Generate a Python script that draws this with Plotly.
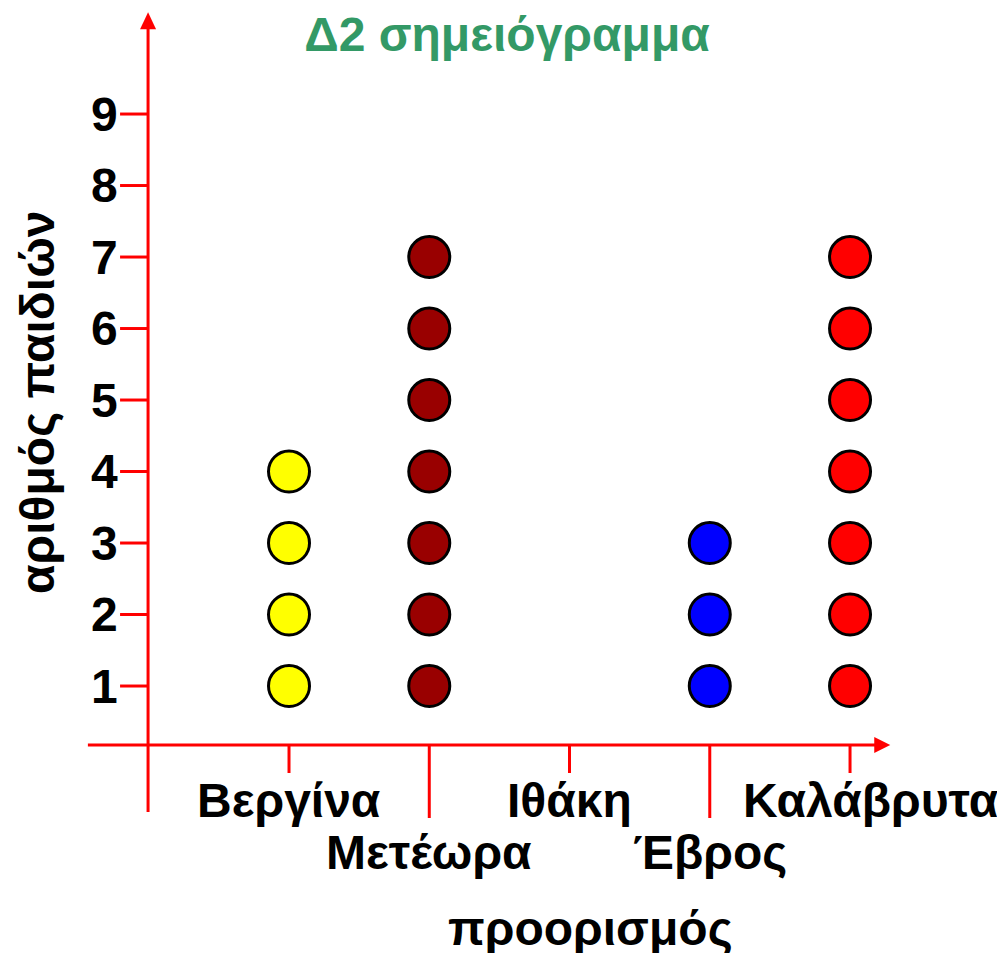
import plotly.graph_objects as go

# ---- data ----
categories = ["Βεργίνα", "Μετέωρα", "Ιθάκη", "Έβρος", "Καλάβρυτα"]
counts = [4, 7, 0, 3, 7]
colors = ["#FFFF00", "#990000", "#00B050", "#0000FF", "#FF0000"]
y_ticks = [1, 2, 3, 4, 5, 6, 7, 8, 9]
title_text = "Δ2 σημειόγραμμα"
x_title = "προορισμός"
y_title = "αριθμός παιδιών"

FONT = "Liberation Sans, Arial, sans-serif"
W, H = 1005, 953
OFF = 8  # page body margin
RED = "#FF0000"
FS = 48

# axis ranges (index of category on x, count on y)
x_range = [-2.0036, 5.162]
y_range = [-2.846, 10.483]
y_axis_x = -1.005      # where the vertical axis stands (in category-index units)
x_axis_y = 0.175       # where the horizontal axis stands (in count units)

fig = go.Figure()

for i, (cat, n, col) in enumerate(zip(categories, counts, colors)):
    if n == 0:
        continue
    fig.add_trace(go.Scatter(
        x=[i] * n, y=list(range(1, n + 1)), mode="markers",
        marker=dict(size=41, color=col, line=dict(color="black", width=3)),
        showlegend=False, hoverinfo="skip", cliponaxis=False,
    ))

shapes = []
# vertical axis line
shapes.append(dict(type="line", xref="x", yref="y", x0=y_axis_x, x1=y_axis_x,
                   y0=-0.763, y1=10.2, line=dict(color=RED, width=3), layer="below"))
# arrow head up
shapes.append(dict(type="path", xref="x", yref="y", xsizemode="pixel", ysizemode="pixel",
                   xanchor=y_axis_x, yanchor=10.2, path="M -8 -1 L 8 -1 L 0 16 Z",
                   fillcolor=RED, line=dict(color=RED, width=0)))
# horizontal axis line
shapes.append(dict(type="line", xref="x", yref="y", x0=-1.434, x1=4.18,
                   y0=x_axis_y, y1=x_axis_y, line=dict(color=RED, width=3), layer="below"))
shapes.append(dict(type="path", xref="x", yref="y", xsizemode="pixel", ysizemode="pixel",
                   xanchor=4.18, yanchor=x_axis_y, path="M -1 -8 L -1 8 L 15 0 Z",
                   fillcolor=RED, line=dict(color=RED, width=0)))
# y ticks
for v in y_ticks:
    shapes.append(dict(type="line", xref="x", yref="y", xsizemode="pixel",
                       xanchor=y_axis_x, x0=-28, x1=0, y0=v, y1=v,
                       line=dict(color=RED, width=3)))
# x ticks (alternating length)
for i, cat in enumerate(categories):
    ln = 28 if i % 2 == 0 else 73
    shapes.append(dict(type="line", xref="x", yref="y", ysizemode="pixel",
                       yanchor=x_axis_y, y0=0, y1=-ln, x0=i, x1=i,
                       line=dict(color=RED, width=3)))

annotations = []
for i, cat in enumerate(categories):
    off = 55 if i % 2 == 0 else 107
    xs = 21 if i == len(categories) - 1 else 0
    annotations.append(dict(x=i, y=x_axis_y, xref="x", yref="y", text=cat,
                            showarrow=False, yshift=-off, xshift=xs,
                            font=dict(family=FONT, size=FS, color="black", weight="bold")))
for v in y_ticks:
    annotations.append(dict(x=y_axis_x, y=v, xref="x", yref="y", text=str(v),
                            showarrow=False, xanchor="right", xshift=-28,
                            font=dict(family=FONT, size=FS, color="black", weight="bold")))
annotations.append(dict(x=(590 - OFF) / W, y=1 - (928 - OFF) / H, xref="paper", yref="paper",
                        text=x_title, showarrow=False, yanchor="middle",
                        font=dict(family=FONT, size=FS, color="black", weight="bold")))
annotations.append(dict(x=(37 - OFF) / W, y=1 - (403 - OFF) / H, xref="paper", yref="paper",
                        text=y_title, showarrow=False, textangle=-90,
                        xanchor="center", yanchor="middle",
                        font=dict(family=FONT, size=FS, color="black", weight="bold")))

fig.update_layout(
    width=W, height=H,
    margin=dict(l=0, r=0, t=0, b=0),
    plot_bgcolor="white", paper_bgcolor="white",
    title=dict(text=title_text, x=(507 - OFF) / W, xanchor="center",
               y=1 - (34 - OFF) / H, yanchor="middle",
               font=dict(family=FONT, size=FS, color="#339966", weight="bold")),
    xaxis=dict(range=x_range, visible=False, fixedrange=True),
    yaxis=dict(range=y_range, visible=False, fixedrange=True),
    shapes=shapes, annotations=annotations,
)

fig.write_html("out.html")
